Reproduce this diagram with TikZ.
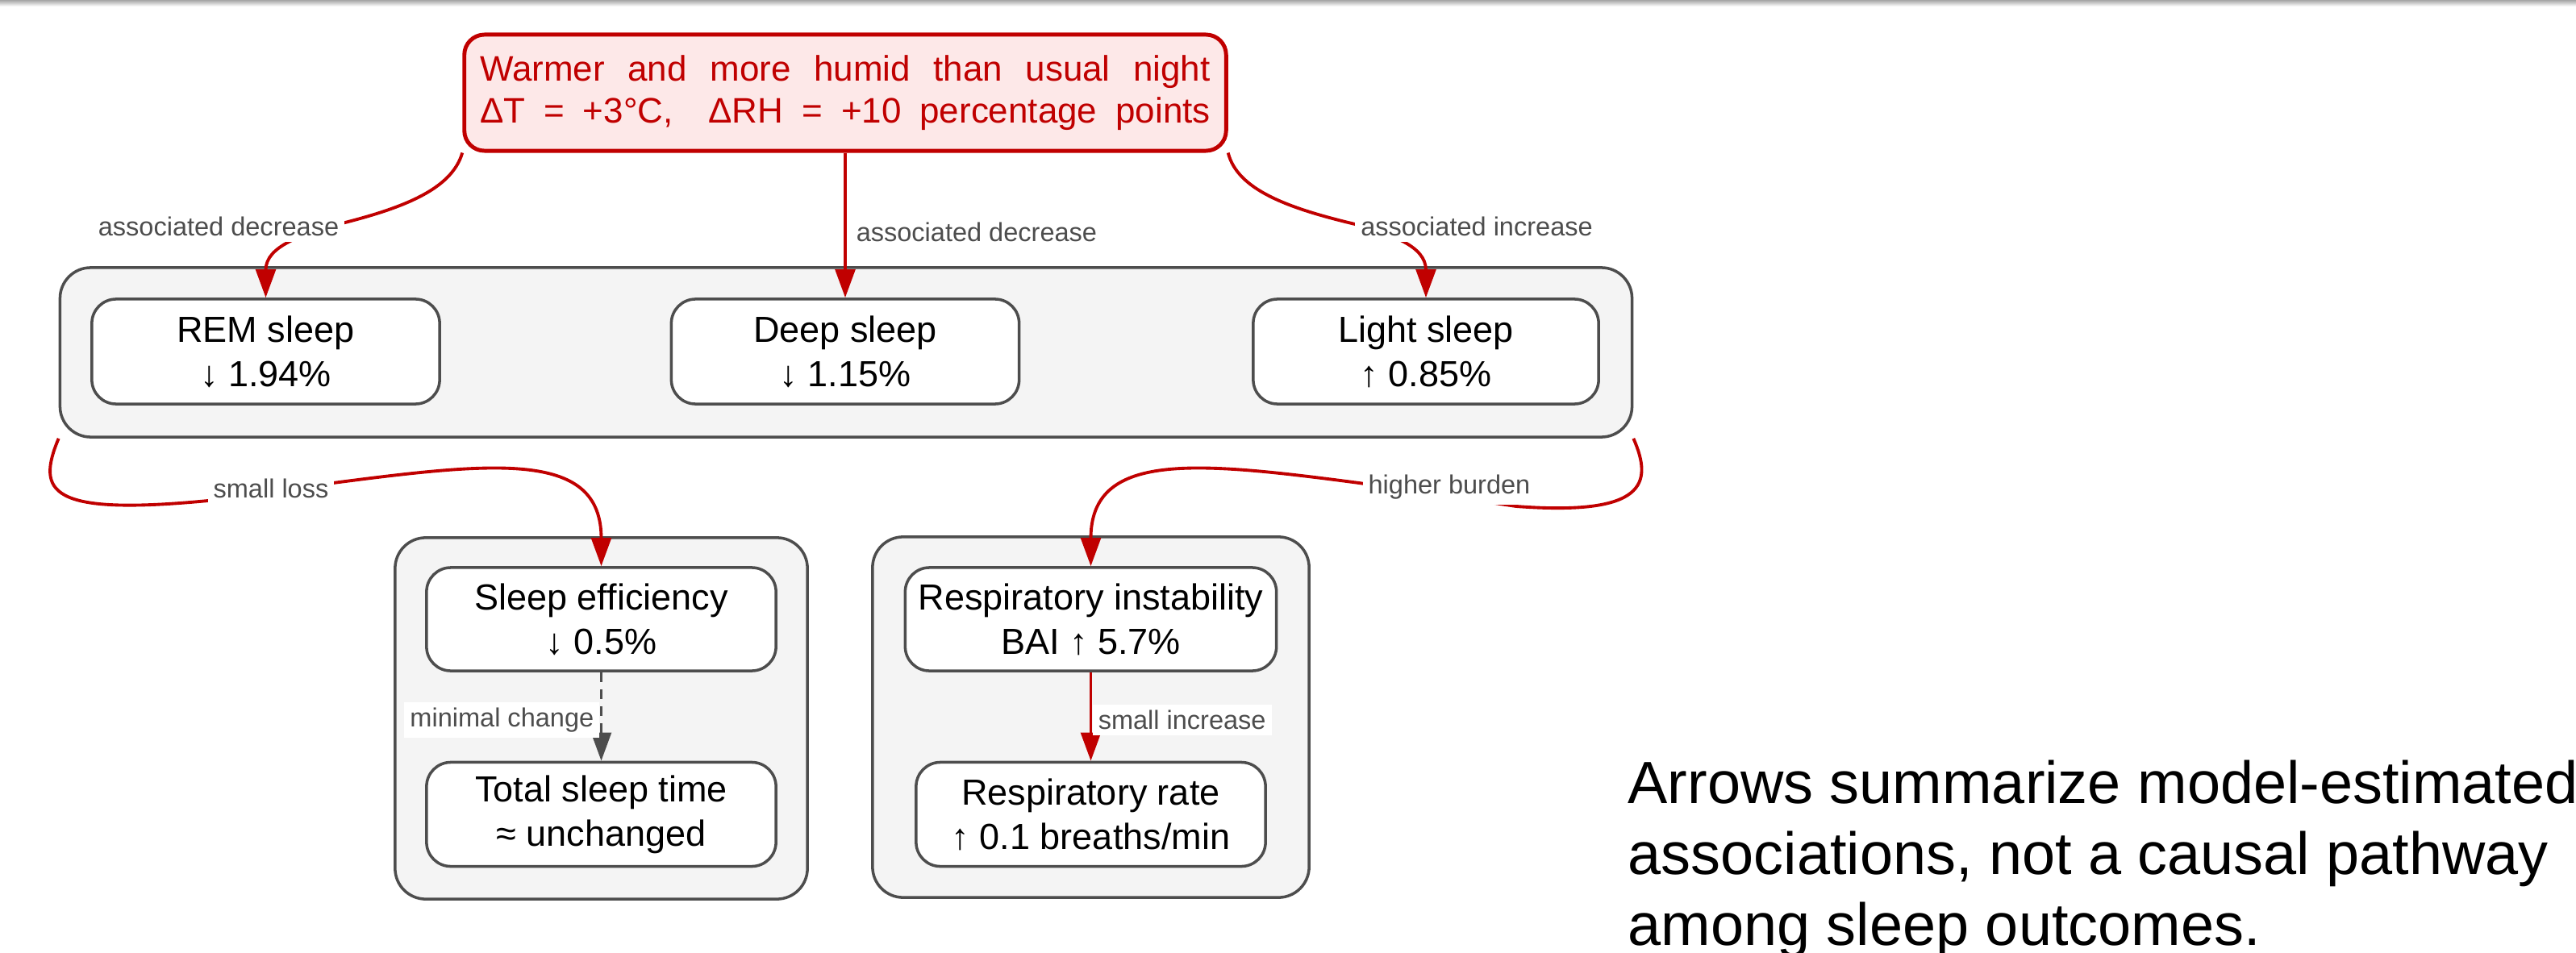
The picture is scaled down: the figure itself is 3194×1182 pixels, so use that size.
\documentclass[tikz,border=0pt]{standalone}
\usepackage{fontspec}
\setmainfont{Liberation Sans}
\usetikzlibrary{arrows.meta}
\definecolor{edgered}{RGB}{192,0,0}
\definecolor{pinkfill}{RGB}{253,232,232}
\definecolor{grpfill}{RGB}{244,244,244}
\definecolor{bordergray}{RGB}{77,77,77}
\newcommand\fnode{\fontsize{12.8}{15.6}\selectfont}
\newcommand\ftop{\fontsize{12.5}{14.8}\selectfont}
\newcommand\flab{\fontsize{9.25}{11}\selectfont}
\newcommand\fcap{\fontsize{21}{25}\selectfont}
\tikzset{
  grp/.style={draw=bordergray, line width=1pt, fill=grpfill, rounded corners=0.38cm, inner sep=0pt},
  stepbox/.style={draw=bordergray, line width=1pt, fill=white, rounded corners=0.3cm, align=center, font=\fnode, inner sep=0pt},
  topbox/.style={draw=edgered, line width=1.4pt, fill=pinkfill, rounded corners=0.25cm, align=center, text=edgered, font=\ftop, inner sep=0pt},
  redarrow/.style={draw=edgered, line width=1.1pt, -{Triangle[length=10pt,width=7pt]}},
  grayarrow/.style={draw=bordergray, line width=1.1pt, dash pattern=on 3.5pt off 2.5pt, -{Triangle[length=10pt,width=7pt]}},
  elabel/.style={fill=white, text=bordergray, font=\flab, inner sep=2pt},
}
\begin{document}
\begin{tikzpicture}[x=0.01cm, y=-0.01cm]
\useasboundingbox (0,0) rectangle (3194,1182);
\shade[top color=black!35, bottom color=white] (0,0) rectangle (3194,8);

% top source
\node[topbox, minimum width=9.44cm, minimum height=1.44cm] (top) at (1048,115)
  {\makebox[9.05cm][s]{Warmer and more humid than usual night}\\
   \makebox[9.05cm][s]{ΔT = +3°C,\quad ΔRH = +10 percentage points}};

% group of sleep stages
\node[grp, minimum width=19.48cm, minimum height=2.10cm] (g1) at (1049,437) {};
\node[stepbox, minimum width=4.31cm, minimum height=1.30cm] (rem) at (329.5,436) {REM sleep\\↓ 1.94\%};
\node[stepbox, minimum width=4.31cm, minimum height=1.30cm] (deep) at (1048,436) {Deep sleep\\↓ 1.15\%};
\node[stepbox, minimum width=4.28cm, minimum height=1.30cm] (light) at (1768,436) {Light sleep\\↑ 0.85\%};

% lower groups
\node[grp, minimum width=5.11cm, minimum height=4.48cm] (g2) at (745.5,891) {};
\node[grp, minimum width=5.41cm, minimum height=4.47cm] (g3) at (1352.5,889.5) {};
\node[stepbox, minimum width=4.33cm, minimum height=1.28cm] (se) at (745.5,768) {Sleep efficiency\\↓ 0.5\%};
\node[stepbox, minimum width=4.33cm, minimum height=1.29cm] (ts) at (745.5,1010) {Total sleep time\\≈ unchanged};
\node[stepbox, minimum width=4.60cm, minimum height=1.28cm] (ri) at (1352.5,768) {Respiratory instability\\BAI ↑ 5.7\%};
\node[stepbox, minimum width=4.33cm, minimum height=1.29cm] (rr) at (1352.5,1010) {Respiratory rate\\↑ 0.1 breaths/min};

% edges
\draw[redarrow] (top.south west) .. controls (560,235) and (500,258) .. (420,278)
  .. controls (375,291) and (329.5,305) .. (rem.north);
\draw[redarrow] (top.south) -- (deep.north);
\draw[redarrow] (top.south east) .. controls (1534,235) and (1596,258) .. (1680,278)
  .. controls (1725,291) and (1768,305) .. (light.north);
\draw[redarrow] (g1.south west) .. controls (45,610) and (60,640) .. (258,621) -- (413,599)
  .. controls (620,572) and (745.5,560) .. (se.north);
\draw[redarrow] (g1.south east) .. controls (2050,600) and (2040,640) .. (1880,628) -- (1685,599)
  .. controls (1480,572) and (1352.5,560) .. (ri.north);
\draw[grayarrow] (se.south) -- (ts.north);
\draw[redarrow] (ri.south) -- (rr.north);

% edge labels
\node[elabel] (lad1) at (271,281) {associated decrease};
\node[elabel, anchor=west] (lad2) at (1054,288) {associated decrease};
\node[elabel] (lai) at (1831,281) {associated increase};
\node[elabel] (lsl) at (336,606) {small loss};
\node[elabel] (lhb) at (1797,604) {higher burden};
\node[elabel, anchor=east] (lmin) at (744,893) {minimal change};
\node[elabel, anchor=west] (linc) at (1354,893) {small increase};

% caption (base anchor = baseline of the last line)
\node[anchor=base west, align=left, font=\fcap, inner sep=0pt] (cap) at (2018,1172)
  {Arrows summarize model-estimated\\associations, not a causal pathway\\among sleep outcomes.};
\end{tikzpicture}
\end{document}
